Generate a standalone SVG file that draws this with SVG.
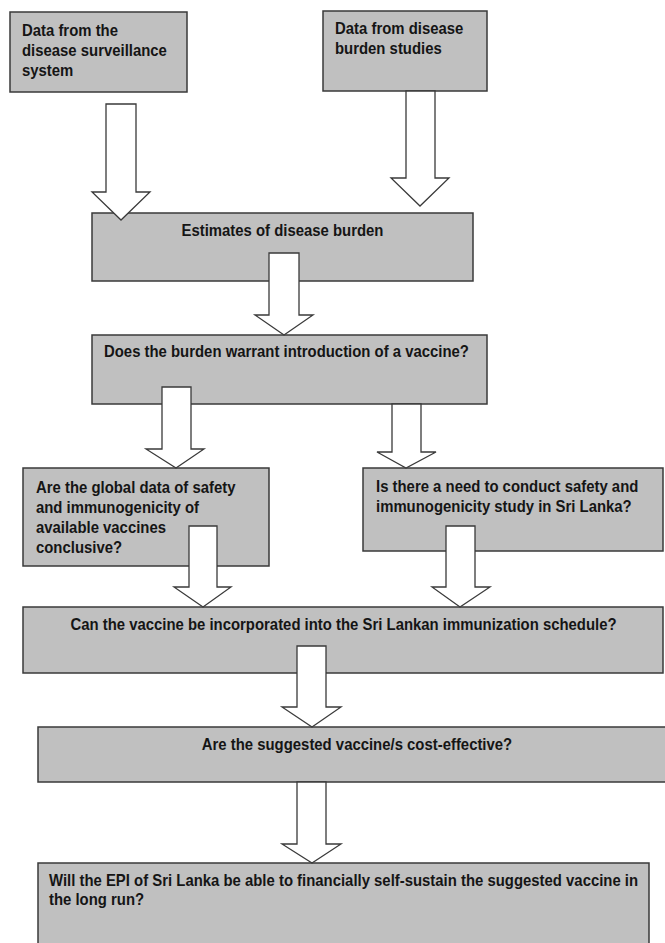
<svg xmlns="http://www.w3.org/2000/svg" width="665" height="943" viewBox="0 0 665 943">
<style>
.box{fill:#c0c0c0;stroke:#3a3a3a;stroke-width:1.5}
.arr{fill:#ffffff;stroke:#3a3a3a;stroke-width:1.3;stroke-linejoin:miter}
text{font-family:"Liberation Sans",Arial,sans-serif;font-weight:bold;font-size:14.9px;fill:#151515}
.c{text-anchor:middle}
</style>
<rect width="665" height="943" fill="#ffffff"/>
<g id="n1"><rect class="box" x="10" y="12" width="177" height="80"/>
<text x="22" y="36" transform="matrix(1 0 0 1.08 0 -2.88)">Data from the</text><text x="22" y="56" transform="matrix(1 0 0 1.08 0 -4.48)">disease surveillance</text><text x="22" y="76" transform="matrix(1 0 0 1.08 0 -6.08)">system</text></g>
<g id="n2"><rect class="box" x="323" y="11" width="164" height="80"/>
<text x="335" y="34" transform="matrix(1 0 0 1.08 0 -2.72)">Data from disease</text><text x="335" y="54" transform="matrix(1 0 0 1.08 0 -4.32)">burden studies</text></g>
<g id="n3"><rect class="box" x="92" y="213" width="381" height="68"/>
<text class="c" x="282.5" y="236" transform="matrix(1 0 0 1.08 0 -18.88)">Estimates of disease burden</text></g>
<g id="n4"><rect class="box" x="92" y="335" width="395" height="69"/>
<text x="104" y="357" transform="matrix(1 0 0 1.08 0 -28.56)">Does the burden warrant introduction of a vaccine?</text></g>
<g id="n5"><rect class="box" x="23" y="468" width="246" height="98"/>
<text x="36" y="493" transform="matrix(1 0 0 1.08 0 -39.44)">Are the global data of safety</text><text x="36" y="513" transform="matrix(1 0 0 1.08 0 -41.04)">and immunogenicity of</text><text x="36" y="533" transform="matrix(1 0 0 1.08 0 -42.64)">available vaccines</text><text x="36" y="553" transform="matrix(1 0 0 1.08 0 -44.24)">conclusive?</text></g>
<g id="n6"><rect class="box" x="363" y="468" width="300" height="83"/>
<text x="376" y="492" transform="matrix(1 0 0 1.08 0 -39.36)">Is there a need to conduct safety and</text><text x="376" y="512" transform="matrix(1 0 0 1.08 0 -40.96)">immunogenicity study in Sri Lanka?</text></g>
<g id="n7"><rect class="box" x="23" y="607" width="640" height="66"/>
<text class="c" x="343.5" y="630" transform="matrix(1 0 0 1.08 0 -50.4)">Can the vaccine be incorporated into the Sri Lankan immunization schedule?</text></g>
<g id="n8"><rect class="box" x="38" y="727" width="640" height="55"/>
<text class="c" x="357" y="750" transform="matrix(1 0 0 1.08 0 -60)">Are the suggested vaccine/s cost-effective?</text></g>
<g id="n9"><rect class="box" x="38" y="863" width="611" height="90"/>
<text x="49" y="886" transform="matrix(1 0 0 1.08 0 -70.88)">Will the EPI of Sri Lanka be able to financially self-sustain the suggested vaccine in</text><text x="49" y="905" transform="matrix(1 0 0 1.08 0 -72.4)">the long run?</text></g>
<g id="connectors">
<polygon class="arr" points="106,104 136,104 136,192 150,192 121,220 92,192 106,192"/>
<polygon class="arr" points="406,91 435,91 435,178 449,178 420,206 391,178 406,178"/>
<polygon class="arr" points="269,253 299,253 299,315 313,315 284,335 255,315 269,315"/>
<polygon class="arr" points="162,387 191,387 191,449 204,449 176,468 146,449 162,449"/>
<polygon class="arr" points="392,404 421,404 421,452 436,452 406,468 377,452 392,452"/>
<polygon class="arr" points="189,526 217,526 217,587 231,587 203,607 174,587 189,587"/>
<polygon class="arr" points="446,526 475,526 475,587 490,587 460,607 432,587 446,587"/>
<polygon class="arr" points="297,646 326,646 326,707 341,707 312,727 282,707 297,707"/>
<polygon class="arr" points="297,782 326,782 326,844 341,844 312,863 282,844 297,844"/>
</g>
</svg>
